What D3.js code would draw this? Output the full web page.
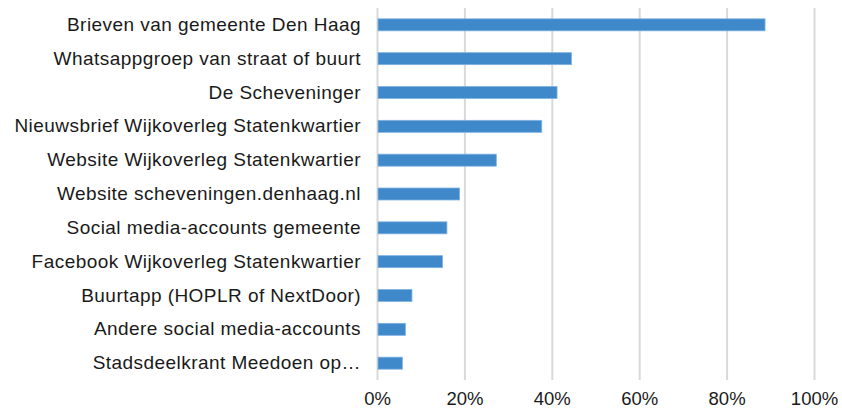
<!DOCTYPE html>
<html>
<head>
<meta charset="utf-8">
<script src="https://cdn.jsdelivr.net/npm/d3@7"></script>
<style>
  body { margin: 0; background: #fff; }
  text { font-family: "Liberation Sans", Arial, sans-serif; fill: #1a1a1a; }
</style>
</head>
<body>
<div id="chart"></div>
<script>
const width = 842,
  height = 408,
  margin = { top: 8, bottom: 28, left: 377, right: 28 };

const categories = [
  "Brieven van gemeente Den Haag",
  "Whatsappgroep van straat of buurt",
  "De Scheveninger",
  "Nieuwsbrief Wijkoverleg Statenkwartier",
  "Website Wijkoverleg Statenkwartier",
  "Website scheveningen.denhaag.nl",
  "Social media-accounts gemeente",
  "Facebook Wijkoverleg Statenkwartier",
  "Buurtapp (HOPLR of NextDoor)",
  "Andere social media-accounts",
  "Stadsdeelkrant Meedoen op…"
];
const values = [0.888, 0.445, 0.412, 0.377, 0.273, 0.189, 0.160, 0.150, 0.080, 0.065, 0.058];
const xTicks = [0, 0.2, 0.4, 0.6, 0.8, 1.0];

const data = categories.map((c, i) => ({ name: c, value: values[i] }));

const svg = d3
  .select("#chart")
  .append("svg")
  .attr("width", width)
  .attr("height", height);

const xScale = d3
  .scaleLinear()
  .domain([0, 1])
  .range([margin.left, width - margin.right]);

const yScale = d3
  .scaleBand()
  .domain(categories)
  .range([margin.top, height - margin.bottom])
  .paddingInner(0.645)
  .paddingOuter(0.32);

// gridlines + percent labels
const xAxis = d3
  .axisBottom(xScale)
  .tickValues(xTicks)
  .tickFormat(d3.format(".0%"))
  .tickSize(-(height - margin.bottom - margin.top))
  .tickPadding(12);

svg
  .append("g")
  .attr("class", "x-axis")
  .attr("transform", `translate(0,${height - margin.bottom})`)
  .call(xAxis)
  .call(g => g.select(".domain").remove())
  .call(g => g.selectAll("line").attr("stroke", "#d9d9d9").attr("stroke-width", 2))
  .call(g => g.selectAll("text").attr("font-size", 18.5).attr("fill", "#1a1a1a"));

svg
  .selectAll(".bar")
  .data(data)
  .join("rect")
  .attr("class", "bar")
  .attr("x", xScale(0) + 1)
  .attr("y", d => yScale(d.name))
  .attr("width", d => xScale(d.value) - xScale(0) - 1)
  .attr("height", yScale.bandwidth())
  .attr("fill", "#3f89ca")
  .attr("stroke", "#80b3e2")
  .attr("stroke-width", 0.8);

const yAxis = d3.axisLeft(yScale).tickSize(0).tickPadding(16);

svg
  .append("g")
  .attr("class", "y-axis")
  .attr("transform", `translate(${margin.left},0)`)
  .call(yAxis)
  .call(g => g.select(".domain").remove())
  .call(g =>
    g
      .selectAll("text")
      .attr("font-size", 19)
      .attr("letter-spacing", "0.45px")
      .attr("fill", "#1a1a1a")
  );
</script>
</body>
</html>
